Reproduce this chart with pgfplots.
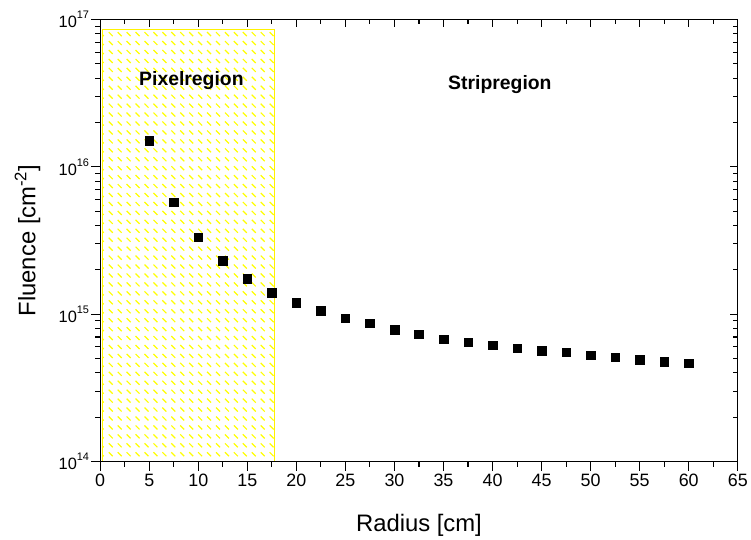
\documentclass[border=0pt]{standalone}
\usepackage{fontspec}
\setmainfont{Liberation Sans}
\usepackage{pgfplots}
\pgfplotsset{compat=1.18}
\usetikzlibrary{patterns}
\pgfdeclarepatternformonly{ydash}{\pgfqpoint{-1pt}{-1pt}}{\pgfqpoint{10pt}{10pt}}{\pgfqpoint{9pt}{9pt}}{%
  \pgfsetlinewidth{1.2pt}%
  \pgfpathmoveto{\pgfqpoint{1.5pt}{7pt}}%
  \pgfpathlineto{\pgfqpoint{5.5pt}{3pt}}%
  \pgfusepath{stroke}}
\pgfplotstableread{
r f
5 1.51e16
7.5 5.75e15
10 3.34e15
12.5 2.30e15
15 1.74e15
17.5 1.40e15
20 1.20e15
22.5 1.06e15
25 9.4e14
27.5 8.7e14
30 7.86e14
32.5 7.31e14
35 6.76e14
37.5 6.45e14
40 6.15e14
42.5 5.87e14
45 5.64e14
47.5 5.52e14
50 5.27e14
52.5 5.11e14
55 4.91e14
57.5 4.75e14
60 4.66e14
}\fluence
\newcommand{\tsup}[1]{\raisebox{0.55em}{\fontsize{11}{12}\selectfont #1}}
\begin{document}
\begin{tikzpicture}
\begin{axis}[
  scale only axis, width=639.5bp, height=443.5bp,
  xmin=0, xmax=65, ymode=log, ymin=1e14, ymax=1e17,
  xtick={0,5,...,65}, minor x tick num=1,
  /pgf/number format/assume math mode=true,
  ytick={1e14,1e15,1e16,1e17},
  yticklabels={10\tsup{14},10\tsup{15},10\tsup{16},10\tsup{17}},
  minor ytick={2e14,3e14,4e14,5e14,6e14,7e14,8e14,9e14,2e15,3e15,4e15,5e15,6e15,7e15,8e15,9e15,2e16,3e16,4e16,5e16,6e16,7e16,8e16,9e16},
  xtick pos=bottom, ytick pos=left, tick align=outside,
  major tick length=9bp, minor tick length=5bp,
  every tick/.style={black, line width=1.1bp},
  axis line style={line width=1.3bp},
  xticklabel style={font=\fontsize{18}{20}\selectfont},
  yticklabel style={font=\fontsize{16.5}{18}\selectfont, inner sep=2pt},
  xlabel={Radius [cm]}, ylabel={Fluence [cm\textsuperscript{-2}]},
  label style={font=\fontsize{24}{28}\selectfont},
  xlabel style={at={(axis description cs:0.5,-0.144)}, anchor=center},
  ylabel style={at={(axis description cs:-0.114,0.5)}, anchor=center},
  axis on top,
  clip=false,
]
\addplot[draw=yellow, line width=1.2bp, pattern=ydash, pattern color=yellow]
  coordinates {(0.25,1e14) (0.25,8.5e16) (17.73,8.5e16) (17.73,1e14)} -- cycle;
\addplot[only marks, mark=square*, mark size=4.3bp, black] table[x=r, y=f] {\fluence};
\node[font=\bfseries\fontsize{19.5}{22}\selectfont] at (axis cs:9.3,3.86e16) {Pixelregion};
\node[font=\bfseries\fontsize{19.5}{22}\selectfont] at (axis cs:40.75,3.6e16) {Stripregion};
\end{axis}
\begin{axis}[
  scale only axis, width=639.5bp, height=443.5bp,
  xmin=0, xmax=65, ymode=log, ymin=1e14, ymax=1e17,
  xtick={0,5,...,65}, minor x tick num=1,
  ytick={1e14,1e15,1e16,1e17},
  minor ytick={2e14,3e14,4e14,5e14,6e14,7e14,8e14,9e14,2e15,3e15,4e15,5e15,6e15,7e15,8e15,9e15,2e16,3e16,4e16,5e16,6e16,7e16,8e16,9e16},
  xticklabels={}, yticklabels={},
  xtick pos=top, ytick pos=right, tick align=inside,
  major tick length=8bp, minor tick length=5bp,
  every tick/.style={black, line width=1.1bp},
  axis line style={line width=1.3bp},
]
\end{axis}
\path (-100.5bp,-77bp) rectangle (650.5bp,463bp);
\end{tikzpicture}
\end{document}
